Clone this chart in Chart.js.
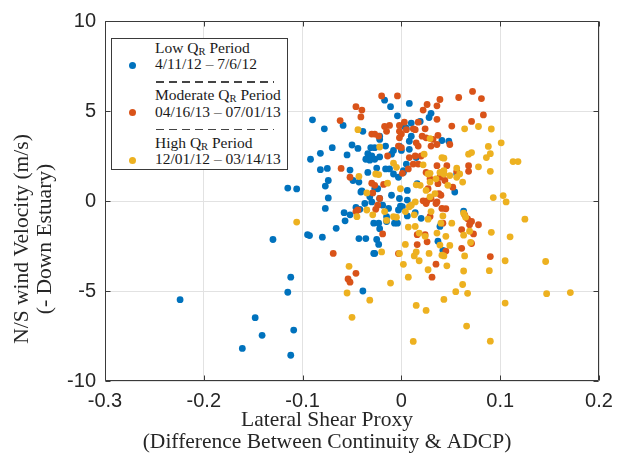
<!DOCTYPE html>
<html>
<head>
<meta charset="utf-8">
<script src="https://cdn.jsdelivr.net/npm/chart.js@4.4.1/dist/chart.umd.min.js"></script>
<style>
  body { margin: 0; background: #fff; }
  #wrap { position: relative; width: 626px; height: 461px; }
  #legend { position: absolute; left: 111px; top: 38px; width: 175px; height: 130px; border: 1px solid #3a3a3a; background: #fff;
            font-family: 'Liberation Serif', serif; font-size: 15.5px; color: #1a1a1a; }
  #legend .ln { position: absolute; left: 43px; height: 16px; line-height: 16px; white-space: nowrap; }
  #legend .dot { position: absolute; width: 7px; height: 7px; border-radius: 50%; }
  #legend .dash { position: absolute; left: 44px; width: 118px; height: 1.5px;
                  background: repeating-linear-gradient(90deg, #444 0 8px, transparent 8px 13px); }
  #legend sub { font-size: 0.68em; vertical-align: -0.2em; line-height: 0; }
</style>
</head>
<body>
<div id="wrap">
  <canvas id="shearChart" width="626" height="461"></canvas>
  <div id="legend"></div>
</div>
<script>
// ---- data ----
const xTickValues = [-0.3, -0.2, -0.1, 0, 0.1, 0.2];
const xTickLabels = ['-0.3', '-0.2', '-0.1', '0', '0.1', '0.2'];
const yTickValues = [-10, -5, 0, 5, 10];
const yTickLabels = ['-10', '-5', '0', '5', '10'];

const xTitle = ['Lateral Shear Proxy', '(Difference Between Continuity & ADCP)'];
const yTitle = ['N/S wind Velocity (m/s)', '(- Down Estuary)'];

const seriesNames = ['Low', 'Moderate', 'High'];
const seriesPeriods = ['4/11/12 \u2013 7/6/12', '04/16/13 \u2013 07/01/13', '12/01/12 \u2013 03/14/13'];
const seriesColors = ['#0072BD', '#D95319', '#EDB120'];

// Low QR period (lateral shear proxy, N/S wind velocity)
const lowPoints = [
  [-0.224,-5.48],[-0.130,-2.14],[-0.112,-4.23],[-0.115,-5.07],[-0.148,-6.48],[-0.109,-7.17],[-0.141,-7.46],
  [-0.161,-8.19],[-0.112,-8.57],[-0.115,0.72],[-0.106,0.67],[-0.039,-5.0],[0.039,-1.41],
  [-0.017,5.6],[0.008,5.42],[-0.011,5.24],[0.030,4.87],[0.028,4.64],[-0.004,4.73],[-0.090,4.51],[-0.078,4.01],
  [-0.059,4.2],[-0.039,3.87],[0.003,4.14],[0.010,4.33],[0.005,4.05],[0.019,4.42],
  [-0.022,3.6],[-0.022,3.42],[-0.016,3.05],[-0.031,2.96],[-0.027,2.96],[0.010,3.6],[0.008,3.32],[-0.002,3.05],
  [0.0,2.81],[-0.008,2.81],[-0.010,2.6],[0.008,2.87],[0.015,2.41],
  [-0.070,2.96],[-0.082,2.65],[-0.092,2.32],[-0.055,2.56],[-0.050,3.11],[-0.044,2.92],[-0.034,2.63],[-0.030,2.5],
  [-0.036,2.32],[-0.032,2.27],[-0.027,2.32],[-0.022,2.45],
  [-0.016,1.78],[-0.025,1.83],[-0.012,1.78],[-0.008,1.5],[-0.003,1.32],[0.002,1.59],[0.005,2.05],[0.002,1.68],
  [-0.082,1.74],[-0.075,1.81],[-0.052,1.72],[-0.034,1.59],[-0.043,1.05],[-0.049,1.14],[-0.041,0.5],[-0.040,0.56],
  [-0.032,0.23],[-0.030,-0.05],[-0.027,0.68],[-0.024,0.68],[-0.022,0.14],[-0.019,-0.23],[-0.013,-0.41],[-0.010,0.32],
  [-0.002,0.14],[0.006,0.59],[0.016,0.96],[0.006,0.05],[-0.001,-0.28],[0.001,-0.32],[0.014,-0.65],
  [-0.074,1.14],[-0.077,0.83],[-0.074,0.17],[-0.077,-0.41],[-0.058,-0.65],[-0.057,-1.1],[-0.052,-0.77],
  [-0.046,-0.36],[-0.042,-0.46],[-0.037,-0.14],
  [-0.028,-1.23],[-0.023,-1.23],[-0.022,-1.54],[-0.015,-0.87],[-0.015,-1.14],[-0.007,-1.23],[-0.004,-1.23],
  [-0.003,-0.5],[0.006,-0.83],[0.020,-0.96],
  [0.054,0.5],[0.056,1.5],[0.048,3.32],[0.041,3.36],[0.063,-0.56],
  [-0.095,-1.87],[-0.093,-1.92],[-0.080,-2.01],[-0.066,-1.52],[-0.043,-2.09],[-0.036,-2.09],[-0.025,-2.14],
  [-0.023,-2.41],[-0.028,-2.91],[-0.027,-2.91],[0.037,-2.23],[0.042,-2.74]
];

// Moderate QR period
const moderatePoints = [
  [0.072,6.09],[-0.020,5.84],[-0.004,5.84],[0.039,5.64],[0.058,5.75],[0.081,5.69],[0.026,5.36],[0.036,5.29],
  [-0.046,5.24],[-0.040,5.05],[0.022,5.05],[0.083,4.78],[-0.041,4.67],[0.036,4.54],[-0.062,4.47],[0.003,4.38],
  [0.017,4.38],[0.071,4.42],
  [-0.012,4.2],[-0.017,4.14],[-0.002,4.2],[0.051,4.16],[-0.030,3.72],[-0.027,3.72],[-0.015,3.87],[-0.002,3.87],
  [0.0,3.72],[0.005,3.96],[0.012,4.01],[0.014,3.96],[0.024,4.01],[-0.023,3.6],[0.021,3.6],[0.025,3.51],
  [0.037,3.65],[0.032,3.42],[0.036,3.14],[0.030,3.05],[0.049,3.14],[-0.002,3.51],[-0.003,3.05],[0.0,2.96],
  [0.017,3.05],[0.015,3.23],
  [-0.014,2.5],[0.008,2.41],[0.014,2.5],[0.020,2.5],[0.012,2.05],[0.017,2.05],[0.007,1.78],[0.001,1.54],
  [0.025,1.59],[0.036,1.96],[0.046,1.96],[0.068,1.96],[0.068,1.65],[0.056,1.65],[-0.052,1.32],[-0.061,1.81],
  [-0.030,0.99],[-0.027,0.87],[-0.018,0.92],[-0.029,0.45],[-0.022,0.14],[0.037,0.96],[0.038,0.41],[0.052,0.77],
  [0.039,1.32],[0.029,1.23],[0.044,1.14],[0.027,0.68],[0.040,0.32],
  [-0.024,-0.23],[0.022,0.01],[0.026,0.01],[0.030,0.14],[0.036,-0.05],[0.025,-0.14],[0.035,-0.14],
  [-0.046,-0.59],[-0.044,-0.5],[-0.026,-0.46],[0.041,-0.41],[0.045,-0.43],[0.064,-0.77],[0.029,-0.86],
  [0.067,-0.99],[0.042,-1.23],
  [-0.019,-1.83],[0.016,-1.87],[0.024,-1.87],[0.061,-1.59],[0.071,-1.14],[0.069,-1.32],[0.078,-1.32],[0.073,-1.83],
  [-0.069,-2.91],[0.061,-2.63],[0.071,-2.36],[0.090,-3.09],[0.035,-3.51],[-0.046,-4.02],[-0.054,-4.33],
  [-0.052,-4.51],[0.031,-4.23],[0.016,-2.42],[-0.003,-2.92],[0.045,-2.78],[0.026,-2.27]
];

// High QR period
const highPoints = [
  [-0.044,3.96],[0.064,4.01],[0.078,4.14],[0.091,4.0],[-0.022,3.0],[0.029,3.47],[0.088,3.03],[0.101,3.23],
  [0.068,2.6],[0.071,2.69],[0.086,2.41],[0.090,2.63],[0.113,2.19],[0.118,2.19],
  [0.041,2.41],[0.043,2.38],[0.056,1.83],[0.078,1.9],[-0.008,2.1],[0.023,2.6],[0.022,2.01],[-0.005,1.87],
  [0.027,1.5],[0.029,1.54],[0.029,1.05],[0.039,1.59],[0.043,1.68],[0.043,1.5],[0.049,1.41],[0.056,1.32],
  [0.062,1.05],[0.047,0.87],[0.059,1.5],[0.035,1.23],[0.015,0.9],[0.019,0.87],[-0.001,0.68],[0.025,0.59],
  [0.034,0.41],[0.029,0.23],
  [-0.043,1.36],[-0.026,1.5],[-0.023,1.47],[-0.014,0.99],[-0.035,0.45],[0.090,1.65],[0.093,0.19],[0.103,0.3],
  [0.106,-0.05],
  [0.014,-0.05],[0.008,-0.32],[0.004,-0.59],[0.010,-0.23],[0.030,-0.59],[-0.029,-0.77],[-0.035,-0.5],
  [-0.045,-0.87],[-0.017,-0.59],[-0.008,-0.87],[-0.005,-0.9],[-0.015,-1.08],[0.007,-1.45],[0.013,-0.77],
  [0.027,-1.01],[0.040,-1.23],[0.042,-0.83],[0.051,-1.23],[0.063,-0.68],[0.065,-0.9],[0.125,-1.01],
  [0.091,-1.74],[0.110,-1.99],
  [0.014,-1.41],[0.018,-1.78],[0.024,-1.96],[0.036,-1.78],[0.045,-1.96],[0.063,-1.9],[0.069,-1.68],[0.070,-2.3],
  [-0.020,-2.83],[-0.002,-2.91],[0.004,-2.41],[0.015,-2.83],[0.018,-3.32],[0.013,-3.05],[0.028,-2.91],
  [0.039,-2.45],[0.041,-3.01],[0.043,-3.05],[0.049,-2.47],[0.064,-3.05],[0.089,-3.87],[0.105,-3.32],
  [0.146,-3.36],[-0.053,-3.63],[0.002,-3.52],[0.007,-4.23],[0.027,-3.82],[0.046,-3.6],[0.063,-3.89],
  [-0.106,-1.17],
  [-0.055,-5.11],[-0.032,-5.51],[-0.050,-6.46],[-0.011,-4.56],[0.015,-5.8],[0.025,-6.08],[0.012,-7.8],
  [0.055,-5.04],[0.067,-5.13],[0.043,-5.47],[0.062,-4.64],[0.066,-6.95],[0.090,-7.79],[0.105,-5.67],
  [0.147,-5.15],[0.171,-5.09]
];

const allSeries = [lowPoints, moderatePoints, highPoints];

// ---- chart ----
const axisColor = '#3a3a3a';
const textColor = '#262626';

// MATLAB style box with inward ticks on all four sides
const axisBox = {
  id: 'axisBox',
  afterDatasetsDraw(chart) {
    const { ctx, chartArea: a, scales: { x, y } } = chart;
    const L = Math.round(a.left) + 0.5, R = Math.round(a.right) - 0.5;
    const T = Math.round(a.top) + 0.5, B = Math.round(a.bottom) - 0.5;
    ctx.save();
    ctx.strokeStyle = axisColor;
    ctx.lineWidth = 1;
    ctx.beginPath();
    x.ticks.forEach(t => {
      const px = Math.round(x.getPixelForValue(t.value)) + 0.5;
      ctx.moveTo(px, B); ctx.lineTo(px, B - 5);
      ctx.moveTo(px, T); ctx.lineTo(px, T + 5);
    });
    y.ticks.forEach(t => {
      const py = Math.round(y.getPixelForValue(t.value)) + 0.5;
      ctx.moveTo(L, py); ctx.lineTo(L + 5, py);
      ctx.moveTo(R, py); ctx.lineTo(R - 5, py);
    });
    ctx.rect(L, T, R - L, B - T);
    ctx.stroke();
    ctx.restore();
  }
};

// axis titles sit a bit off-centre in the original, so they are placed by hand
const axisTitles = {
  id: 'axisTitles',
  afterDraw(chart) {
    const { ctx } = chart;
    ctx.save();
    ctx.fillStyle = textColor;
    ctx.font = "21.5px 'Liberation Serif', serif";
    ctx.textAlign = 'center';
    ctx.textBaseline = 'middle';
    xTitle.forEach((t, i) => ctx.fillText(t, 327, 420 + 22 * i));
    yTitle.forEach((t, i) => {
      ctx.save();
      ctx.translate(22 + 23 * i, 239);
      ctx.rotate(-Math.PI / 2);
      ctx.fillText(t, 0, 0);
      ctx.restore();
    });
    ctx.restore();
  }
};

Chart.defaults.font.family = "'Liberation Sans', Arial, sans-serif";

const ctx = document.getElementById('shearChart').getContext('2d');
new Chart(ctx, {
  type: 'scatter',
  data: {
    datasets: allSeries.map((pts, i) => ({
      label: seriesNames[i],
      data: pts.map(p => ({ x: p[0], y: p[1] })),
      backgroundColor: seriesColors[i],
      borderWidth: 0,
      pointRadius: 3.4,
      order: 3 - i
    }))
  },
  options: {
    responsive: false,
    animation: false,
    devicePixelRatio: 1,
    layout: { padding: { top: 14, right: 27, left: 0, bottom: 0 } },
    plugins: {
      legend: { display: false },
      tooltip: { enabled: false }
    },
    scales: {
      x: {
        type: 'linear',
        min: -0.3,
        max: 0.2,
        afterBuildTicks: s => { s.ticks = xTickValues.map(v => ({ value: v })); },
        afterFit: s => { s.height = 80; },
        ticks: {
          padding: 8,
          color: textColor,
          font: { size: 20 },
          maxRotation: 0,
          callback: (v, i) => xTickLabels[i]
        },
        grid: { color: '#e2e2e2', drawTicks: false },
        border: { display: false }
      },
      y: {
        min: -10,
        max: 10,
        afterBuildTicks: s => { s.ticks = yTickValues.map(v => ({ value: v })); },
        afterFit: s => { s.width = 105; },
        ticks: {
          padding: 9,
          color: textColor,
          font: { size: 20 },
          callback: (v, i) => yTickLabels[i]
        },
        grid: { color: '#e2e2e2', drawTicks: false },
        border: { display: false }
      }
    }
  },
  plugins: [axisBox, axisTitles]
});

// ---- legend box (multi-line entries with dashed separators) ----
const legend = document.getElementById('legend');
seriesNames.forEach((name, i) => {
  const top = 8.7 + 47.5 * i;
  const l1 = document.createElement('div');
  l1.className = 'ln';
  l1.style.top = (top - 8) + 'px';
  l1.innerHTML = name + ' Q<sub>R</sub> Period';
  const l2 = document.createElement('div');
  l2.className = 'ln';
  l2.style.top = (top + 16.5 - 8) + 'px';
  l2.textContent = seriesPeriods[i];
  const dot = document.createElement('div');
  dot.className = 'dot';
  dot.style.background = seriesColors[i];
  dot.style.left = (20.7 - 3.5) + 'px';
  dot.style.top = (top + 17.5 - 3.5) + 'px';
  legend.append(l1, l2, dot);
  if (i < seriesNames.length - 1) {
    const d = document.createElement('div');
    d.className = 'dash';
    d.style.top = (top + 33.3) + 'px';
    legend.append(d);
  }
});
</script>
</body>
</html>
